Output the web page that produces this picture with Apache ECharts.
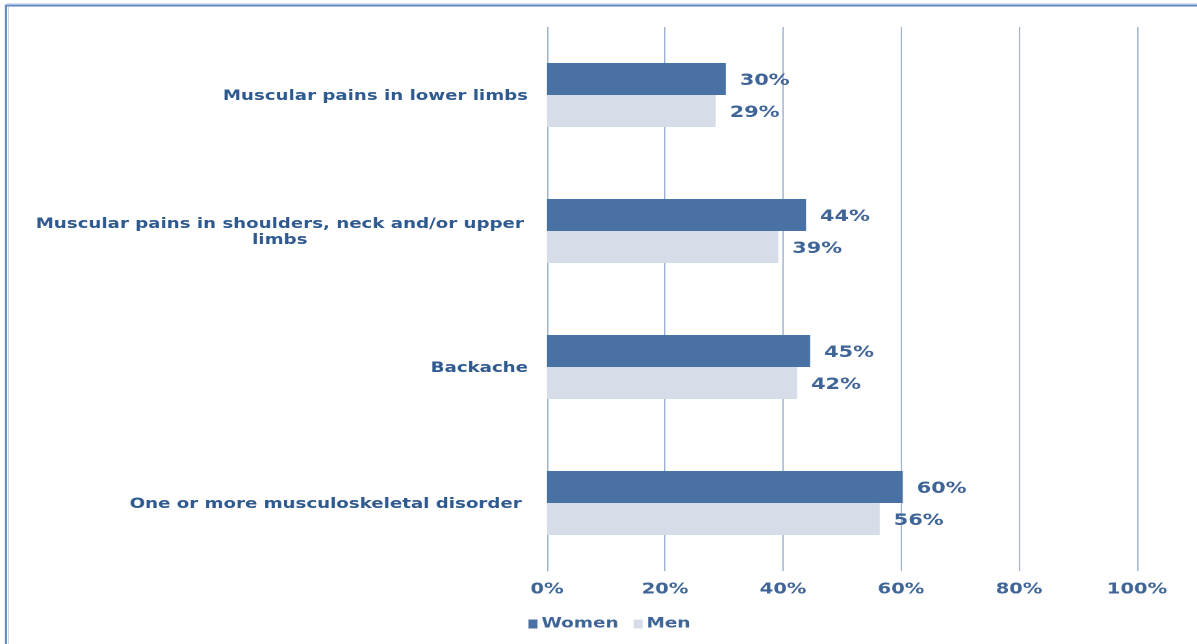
<!DOCTYPE html>
<html><head><meta charset="utf-8">
<script src="https://cdn.jsdelivr.net/npm/echarts@6/dist/echarts.min.js"></script>
<style>
html,body{margin:0;padding:0;background:#fff;overflow:hidden}
#wrap{width:1197px;height:644px;overflow:hidden}
#c{width:921px;height:644px;transform:scaleX(1.29967);transform-origin:0 0}
</style>
</head><body><div id="wrap"><div id="c"></div></div>
<script>
var categories = ["Muscular pains in lower limbs", "Muscular pains in shoulders, neck and/or upper limbs", "Backache", "One or more musculoskeletal disorder "];
var women = [30.3, 43.9, 44.6, 60.3];
var men = [28.6, 39.2, 42.4, 56.4];
var xTicks = [0, 20, 40, 60, 80, 100];
var seriesNames = ["Women", "Men"];

// the reference image is stretched horizontally; the chart is drawn narrow and stretched by CSS
var S = 1197 / 921;
function px(v) { return v / S; }

var labelColor = '#3f6596';
var font = 'DejaVu Sans';
var chart = echarts.init(document.getElementById('c'), null, {devicePixelRatio: 2});
chart.setOption({
  animation: false,
  graphic: [
    {type: 'line', shape: {x1: px(6), y1: 5.5, x2: 921, y2: 5.5}, style: {stroke: '#5b87c5', lineWidth: 2}},
    {type: 'line', shape: {x1: px(6), y1: 4.5, x2: px(6), y2: 644}, style: {stroke: '#5b87c5', lineWidth: 1.6}},
    {type: 'line', shape: {x1: px(8.5), y1: 7, x2: px(8.5), y2: 644}, style: {stroke: '#c8cbd0', lineWidth: 0.8}},
    {type: 'line', shape: {x1: px(7), y1: 3.5, x2: 921, y2: 3.5}, style: {stroke: '#d6dde8', lineWidth: 1}}
  ],
  grid: {left: px(547), right: px(60), top: 27, bottom: 73},
  legend: {
    data: seriesNames, left: px(522), top: 612, itemWidth: px(9), itemHeight: 9, itemGap: px(15), icon: 'rect',
    textStyle: {color: labelColor, fontFamily: font, fontWeight: 'bold', fontSize: 14.2, padding: [0, 0, 0, -2]}
  },
  xAxis: {
    type: 'value', min: 0, max: 100, interval: 20,
    axisLine: {show: false}, axisTick: {show: false},
    splitLine: {lineStyle: {color: '#9fb3d1', width: 1}},
    axisLabel: {formatter: function (v) { return xTicks.indexOf(v) >= 0 ? v + '%' : ''; }, color: labelColor, fontFamily: font, fontWeight: 'bold', fontSize: 15, margin: 11}
  },
  yAxis: {
    type: 'category', data: categories, inverse: true,
    axisLine: {show: true, lineStyle: {color: '#9fb3d1'}}, axisTick: {show: false},
    axisLabel: {
      margin: px(19), color: '#2f5a8f', fontFamily: font, fontWeight: 'bold', fontSize: 14, lineHeight: 16,
      padding: [3, 0, 0, 0],
      formatter: function (v) {
        if (v.indexOf('upper limbs') >= 0) {
          return '{c|Muscular pains in shoulders, neck and/or upper}\n{c|limbs}';
        }
        return v;
      },
      rich: {c: {width: 382, align: 'center', color: '#2f5a8f', fontFamily: font, fontWeight: 'bold', fontSize: 14, lineHeight: 16}}
    }
  },
  series: [
    {name: seriesNames[0], type: 'bar', data: women, barGap: '0%', barCategoryGap: '53%',
     itemStyle: {color: '#4a71a3'},
     label: {show: true, position: 'right', distance: px(14), offset: [0, 2], formatter: function (p) { return Math.round(p.value) + '%'; }, color: labelColor, fontFamily: font, fontWeight: 'bold', fontSize: 16}},
    {name: seriesNames[1], type: 'bar', data: men, barGap: '0%', barCategoryGap: '53%',
     itemStyle: {color: '#d6dde9'},
     label: {show: true, position: 'right', distance: px(14), offset: [0, 2], formatter: function (p) { return Math.round(p.value) + '%'; }, color: labelColor, fontFamily: font, fontWeight: 'bold', fontSize: 16}}
  ]
});
</script></body></html>
